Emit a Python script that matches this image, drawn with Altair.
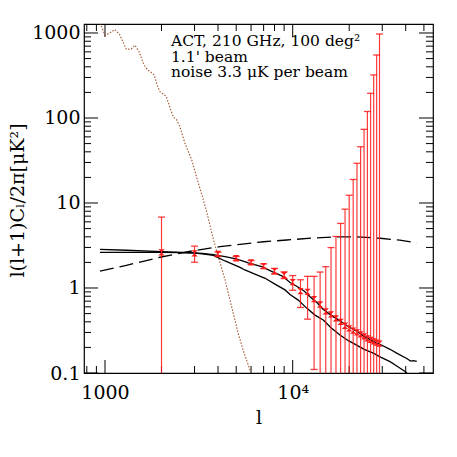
import altair as alt
import pandas as pd

# ---------------- data ----------------
ell_bins = [2000, 3000, 4000, 5000, 6000, 7000, 8000, 9000, 10000, 11000,
            12000, 13000, 14000, 15000, 16000, 17000, 18000, 19000, 20000,
            21000, 22000, 23000, 24000, 25000, 26000, 27000, 28000, 29000]
band_power = [2.63, 2.56, 2.51, 2.24, 2.0, 1.81, 1.58, 1.42, 1.17, 0.92,
              0.90, 0.74, 0.64, 0.53, 0.49, 0.44, 0.40, 0.36, 0.335,
              0.315, 0.30, 0.285, 0.27, 0.255, 0.245, 0.235, 0.228, 0.222]
band_sigma = [4.2, 0.55, 0.13, 0.11, 0.10, 0.11, 0.12, 0.13, 0.23, 0.33,
              0.47, 0.63, 0.9, 1.25, 2.5, 3.6, 5.35, 8.1, 12.0,
              18.6, 29.0, 45.6, 73.3, 119.0, 195.0, 321.0, 551.0, 973.0]

upper_ell = [940, 1200, 1500, 2000, 2500, 2840, 3300, 3780, 4360, 5000, 5800,
             6840, 7720, 8800, 9680, 10500, 11500, 12360, 13500, 14550, 16000,
             17860, 19800, 21920, 24000, 26900, 29500, 33000, 36000, 40480,
             42500, 44000, 45800]
upper_cl = [2.63, 2.63, 2.63, 2.63, 2.61, 2.60, 2.55, 2.47, 2.34, 2.20, 1.98,
            1.78, 1.57, 1.38, 1.16, 1.05, 0.92, 0.79, 0.67, 0.56, 0.48,
            0.41, 0.35, 0.31, 0.27, 0.236, 0.215, 0.19, 0.17, 0.148,
            0.138, 0.140, 0.137]

lower_ell = [940, 1300, 2000, 2840, 3300, 3780, 4360, 5240, 5560, 6200, 7130,
             8000, 9100, 9680, 10700, 11870, 13140, 14550, 16000, 17860, 19800,
             21920, 24000, 26900, 29200, 33000, 36000, 39700, 42000]
lower_cl = [2.85, 2.78, 2.68, 2.60, 2.52, 2.42, 2.08, 1.75, 1.63, 1.48, 1.30,
            1.12, 0.95, 0.84, 0.72, 0.58, 0.48, 0.42, 0.34, 0.28, 0.24,
            0.213, 0.19, 0.171, 0.155, 0.136, 0.12, 0.104, 0.093]

dashed_ell = [940, 1300, 1963, 2960, 4100, 5240, 7000, 9300, 13000, 17000,
              22000, 29200, 37200, 45800]
dashed_cl = [1.58, 1.85, 2.3, 2.75, 3.06, 3.26, 3.5, 3.67, 3.88, 4.0,
             4.0, 3.85, 3.65, 3.4]

dotted_ell = [900, 950, 1000, 1060, 1130, 1200, 1300, 1380, 1445, 1520, 1600,
              1680, 1760, 1830, 1900, 1963, 2050, 2120, 2200, 2310, 2410, 2500,
              2670, 2900, 3100, 3300, 3500, 3700, 3900, 4100, 4360, 4730, 5130,
              5470, 6000, 6200]
dotted_cl = [1500, 1250, 940, 1000, 1100, 950, 640, 650, 720, 600, 440,
             370, 345, 320, 240, 204, 190, 180, 140, 103, 95, 80,
             50, 32, 19, 12, 7.5, 4.5, 2.9, 2.0, 1.25, 0.6, 0.29,
             0.18, 0.1, 0.085]

x_major = [1000, 10000]
x_minor = [800, 900, 2000, 3000, 4000, 5000, 6000, 7000, 8000, 9000,
           20000, 30000, 40000, 50000]
y_major = [0.1, 1, 10, 100, 1000]
y_minor = [0.2, 0.3, 0.4, 0.5, 0.6, 0.7, 0.8, 0.9,
           2, 3, 4, 5, 6, 7, 8, 9,
           20, 30, 40, 50, 60, 70, 80, 90,
           200, 300, 400, 500, 600, 700, 800, 900]

annotation = ["ACT, 210 GHz, 100 deg²", "1.1' beam", "noise 3.3 μK per beam"]

# ---------------- tables ----------------
bp = pd.DataFrame({"ell": ell_bins, "cl": band_power, "sig": band_sigma})
bp["hi"] = bp["cl"] + bp["sig"]
bp["lo"] = (bp["cl"] - bp["sig"]).clip(lower=0.02)

up = pd.DataFrame({"ell": upper_ell, "cl": upper_cl})
lo = pd.DataFrame({"ell": lower_ell, "cl": lower_cl})
da = pd.DataFrame({"ell": dashed_ell, "cl": dashed_cl})
do = pd.DataFrame({"ell": dotted_ell, "cl": dotted_cl})
xM = pd.DataFrame({"v": x_major})
xm = pd.DataFrame({"v": x_minor})
yM = pd.DataFrame({"v": y_major})
ym = pd.DataFrame({"v": y_minor})

W, H = 349, 349
FONT = "DejaVu Serif"

xscale = alt.Scale(type="log", domain=[773, 55900], nice=False)
yscale = alt.Scale(type="log", domain=[0.1, 1276], nice=False)

xaxis = alt.Axis(values=x_major, labelExpr="datum.value == 10000 ? '10⁴' : '1000'",
                 ticks=False, tickSize=0, domain=False, grid=False,
                 labelFont=FONT, labelFontSize=19, labelColor="black",
                 labelPadding=19, labelBaseline="middle",
                 title="l", titleFont=FONT, titleFontSize=19, titleFontWeight="normal",
                 titleColor="black", titleY=44, titleBaseline="middle")
yaxis = alt.Axis(values=y_major,
                 labelExpr="datum.value < 1 ? '0.1' : format(datum.value, 'd')",
                 ticks=False, tickSize=0, domain=False, grid=False,
                 labelFont=FONT, labelFontSize=19, labelColor="black",
                 labelPadding=4,
                 title="l(l+1)Cₗ/2π[μK²]", titleFont=FONT, titleFontSize=19,
                 titleFontWeight="normal", titleColor="black",
                 titleX=-67, titleY=176, titleAngle=270,
                 titleBaseline="middle", titleAlign="center")

X = lambda f: alt.X(f, type="quantitative", scale=xscale, axis=xaxis)
Y = lambda f: alt.Y(f, type="quantitative", scale=yscale, axis=yaxis)

RED = "#ff1a1a"

bars = alt.Chart(bp).mark_rule(color=RED, strokeWidth=1.2, opacity=0.85, clip=True).encode(
    x=X("ell"), y=Y("lo"), y2="hi")
cap_hi = alt.Chart(bp).mark_tick(orient="horizontal", size=7, thickness=1.3,
                                 color=RED, opacity=0.85, clip=True).encode(
    x=X("ell"), y=Y("hi"))
cap_lo = alt.Chart(bp).mark_tick(orient="horizontal", size=7, thickness=1.3,
                                 color=RED, opacity=0.85, clip=True).encode(
    x=X("ell"), y=Y("lo"))
pts = alt.Chart(bp).mark_point(shape="M-1,-1L1,-1L-1,1L1,1Z", filled=True, size=40,
                               color=RED, opacity=1, clip=True).encode(
    x=X("ell"), y=Y("cl"))

line_up = alt.Chart(up).mark_line(color="black", strokeWidth=1.3, clip=True).encode(
    x=X("ell"), y=Y("cl"))
line_lo = alt.Chart(lo).mark_line(color="black", strokeWidth=1.3, clip=True).encode(
    x=X("ell"), y=Y("cl"))
line_da = alt.Chart(da).mark_line(color="black", strokeWidth=1.3, strokeDash=[14, 6],
                                  clip=True).encode(x=X("ell"), y=Y("cl"))
line_do = alt.Chart(do).mark_line(color="#a0522d", strokeWidth=1.1, strokeDash=[1.5, 1.6],
                                  clip=True).encode(x=X("ell"), y=Y("cl"))

def xticks(df, length):
    b = alt.Chart(df).mark_rule(color="black", strokeWidth=1).encode(
        x=X("v"), y=alt.value(H), y2=alt.value(H - length))
    t = alt.Chart(df).mark_rule(color="black", strokeWidth=1).encode(
        x=X("v"), y=alt.value(0), y2=alt.value(length))
    return [b, t]

def yticks(df, length):
    l = alt.Chart(df).mark_rule(color="black", strokeWidth=1).encode(
        y=Y("v"), x=alt.value(0), x2=alt.value(length))
    r = alt.Chart(df).mark_rule(color="black", strokeWidth=1).encode(
        y=Y("v"), x=alt.value(W), x2=alt.value(W - length))
    return [l, r]

txt = alt.Chart(pd.DataFrame({"a": [0]})).mark_text(
    align="left", baseline="alphabetic", font=FONT, fontSize=15.5, lineHeight=15.5,
    color="black").encode(x=alt.value(87), y=alt.value(22), text=alt.value(annotation))

layers = (xticks(xM, 13) + xticks(xm, 7) + yticks(yM, 14) + yticks(ym, 7) +
          [line_do, line_da, line_lo, line_up, bars, cap_hi, cap_lo, pts, txt])

chart = alt.layer(*layers).properties(
    width=W, height=H,
    padding={"left": 76, "top": 16, "right": 16, "bottom": 60},
    autosize=alt.AutoSizeParams(type="none"),
    background="white",
).configure_view(stroke="black", strokeWidth=1.2)

chart.save("out.html", embed_options={"renderer": "svg", "actions": False})
